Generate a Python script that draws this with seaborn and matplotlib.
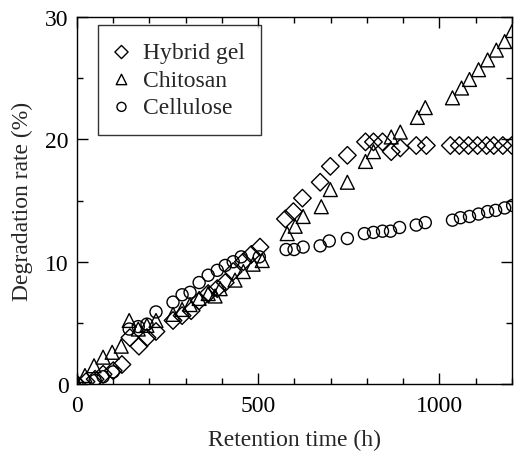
import matplotlib
matplotlib.use("Agg")
import matplotlib.pyplot as plt
import seaborn as sns
from matplotlib.ticker import MultipleLocator

# Hybrid gel
hybrid_x = [0, 25, 50, 72, 100, 124, 146, 171, 193, 218, 265, 290, 315, 337, 362, 387, 409, 431, 459, 481, 505,
            575, 597, 622, 671, 699, 746, 796, 818, 843, 867, 892, 936, 964,
            1030, 1055, 1080, 1105, 1130, 1150, 1175, 1200]
hybrid_y = [0, 0.2, 0.4, 0.8, 1.1, 1.6, 3.8, 3.1, 3.8, 4.3, 5.2, 5.6, 6.0, 6.8, 7.4, 7.8, 8.3, 9.2, 10.0, 10.6, 11.2,
            13.5, 14.1, 15.2, 16.5, 17.8, 18.7, 19.8, 19.8, 19.8, 19.0, 19.3, 19.5, 19.5,
            19.5, 19.5, 19.5, 19.5, 19.5, 19.5, 19.5, 19.5]

# Chitosan
chitosan_x = [0, 22, 47, 72, 97, 122, 144, 169, 193, 218, 265, 290, 312, 337, 362, 381, 395, 436, 459, 486, 511,
              580, 602, 624, 674, 699, 746, 796, 818, 867, 892, 939, 961,
              1036, 1061, 1083, 1108, 1133, 1157, 1180, 1202]
chitosan_y = [0, 0.7, 1.5, 2.2, 2.6, 3.1, 5.2, 4.5, 4.8, 5.2, 5.7, 6.1, 6.5, 7.0, 7.4, 7.2, 7.8, 8.5, 9.2, 9.8, 10.1,
              12.3, 12.9, 13.7, 14.5, 15.9, 16.5, 18.2, 19.0, 20.2, 20.6, 21.8, 22.6,
              23.4, 24.2, 24.9, 25.7, 26.5, 27.3, 28.0, 28.9]

# Cellulose
cellulose_x = [0, 50, 72, 100, 144, 169, 193, 218, 265, 290, 312, 337, 362, 387, 409, 431, 453, 503,
               577, 599, 624, 671, 696, 746, 793, 818, 843, 865, 890, 936, 961,
               1036, 1058, 1083, 1108, 1133, 1155, 1180, 1202]
cellulose_y = [0, 0.3, 0.6, 1.0, 4.5, 4.7, 4.9, 5.9, 6.7, 7.3, 7.5, 8.3, 8.9, 9.3, 9.7, 10.0, 10.4, 10.4,
               11.0, 11.0, 11.2, 11.3, 11.7, 11.9, 12.3, 12.4, 12.5, 12.5, 12.8, 13.0, 13.2,
               13.4, 13.6, 13.7, 13.9, 14.1, 14.2, 14.4, 14.6]

sns.set_style("ticks")
plt.rcParams["font.family"] = ["Liberation Serif", "DejaVu Serif"]

fig = plt.figure(figsize=(5.15, 4.52), dpi=100)
ax = fig.add_axes([0.1495, 0.148, 0.8445, 0.812])

style = dict(facecolor="none", edgecolor="black", linewidth=1.0, ax=ax, zorder=3)
sns.scatterplot(x=hybrid_x, y=hybrid_y, marker="D", s=80, label="Hybrid gel", **style)
sns.scatterplot(x=chitosan_x, y=chitosan_y, marker="^", s=100, label="Chitosan", **style)
sns.scatterplot(x=cellulose_x, y=cellulose_y, marker="o", s=75, label="Cellulose", **style)

ax.set_xlim(0, 1200)
ax.set_ylim(0, 30)
ax.xaxis.set_major_locator(MultipleLocator(500))
ax.xaxis.set_minor_locator(MultipleLocator(100))
ax.yaxis.set_major_locator(MultipleLocator(10))
ax.yaxis.set_minor_locator(MultipleLocator(5))
ax.tick_params(which="both", direction="in", top=True, right=True, colors="black",
               labelsize=17, width=1.0)
ax.tick_params(which="major", length=8)
ax.tick_params(which="minor", length=4)
ax.tick_params(axis="x", which="major", pad=8)
ax.tick_params(axis="y", which="major", pad=6)
for sp in ax.spines.values():
    sp.set_color("black")
    sp.set_linewidth(1.0)

ax.set_xlabel("Retention time (h)", fontsize=17, labelpad=9)
ax.set_ylabel("Degradation rate (%)", fontsize=17, labelpad=9)

leg = ax.legend(loc="upper left", bbox_to_anchor=(0.048, 0.978), borderaxespad=0,
                fontsize=17, markerscale=0.75, frameon=True, fancybox=False,
                handletextpad=0.6, handlelength=0.6, borderpad=0.7, labelspacing=0.25)
leg.get_frame().set_edgecolor("black")
leg.get_frame().set_linewidth(1.0)

fig.savefig("out.png", dpi=100)
